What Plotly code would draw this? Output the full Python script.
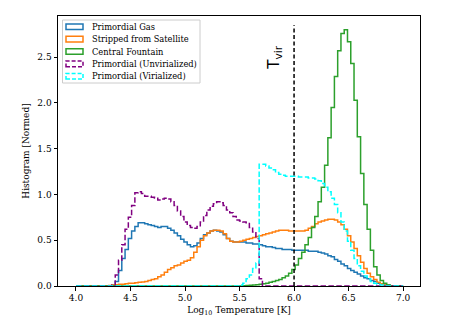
import numpy as np
import plotly.graph_objects as go

# histogram bins: log10 T from 4.0 to 7.0, width 0.03
bin_edges = np.round(np.linspace(4.0, 7.0, 101), 3)

primordial_gas = [
    0, 0, 0, 0, 0, 0, 0, 0, 0, 0,
    0, 0.01, 0.05, 0.17, 0.30, 0.40, 0.52, 0.60, 0.65, 0.69,
    0.69, 0.68, 0.67, 0.66, 0.65, 0.64, 0.65, 0.65, 0.63, 0.61,
    0.58, 0.55, 0.51, 0.48, 0.45, 0.43, 0.44, 0.47, 0.52, 0.56,
    0.58, 0.60, 0.61, 0.60, 0.59, 0.56, 0.52, 0.49, 0.48, 0.48,
    0.48, 0.48, 0.47, 0.47, 0.46, 0.46, 0.45, 0.44, 0.43, 0.43,
    0.42, 0.41, 0.41, 0.40, 0.40, 0.40, 0.39, 0.39, 0.39, 0.39,
    0.39, 0.38, 0.38, 0.38, 0.37, 0.36, 0.35, 0.33, 0.32, 0.29,
    0.27, 0.24, 0.22, 0.19, 0.17, 0.15, 0.13, 0.11, 0.09, 0.08,
    0.06, 0.05, 0.03, 0.02, 0.01, 0.01, 0, 0, 0, 0,
]

stripped = [
    0, 0, 0, 0, 0, 0, 0, 0, 0, 0,
    0.005, 0.01, 0.015, 0.02, 0.02, 0.025, 0.03, 0.03, 0.035, 0.04,
    0.045, 0.05, 0.06, 0.07, 0.08, 0.10, 0.12, 0.15, 0.18, 0.20,
    0.22, 0.23, 0.25, 0.27, 0.28, 0.31, 0.37, 0.43, 0.50, 0.55,
    0.58, 0.60, 0.61, 0.61, 0.60, 0.57, 0.52, 0.49, 0.48, 0.48,
    0.49, 0.50, 0.51, 0.52, 0.53, 0.54, 0.55, 0.56, 0.57, 0.58,
    0.59, 0.60, 0.61, 0.61, 0.61, 0.60, 0.60, 0.60, 0.60, 0.60,
    0.61, 0.63, 0.65, 0.68, 0.70, 0.71, 0.72, 0.73, 0.73, 0.72,
    0.70, 0.67, 0.62, 0.55, 0.48, 0.41, 0.33, 0.26, 0.19, 0.14,
    0.10, 0.07, 0.04, 0.025, 0.01, 0.005, 0, 0, 0, 0,
]

fountain = [
    0, 0, 0, 0, 0, 0, 0, 0, 0, 0,
    0, 0, 0, 0, 0, 0, 0, 0, 0, 0,
    0, 0, 0, 0, 0, 0, 0, 0, 0, 0,
    0, 0, 0, 0, 0, 0, 0, 0, 0, 0,
    0, 0, 0, 0, 0, 0, 0, 0, 0, 0,
    0, 0.002, 0.005, 0.007, 0.01, 0.015, 0.02, 0.025, 0.03, 0.04,
    0.05, 0.06, 0.07, 0.09, 0.11, 0.14, 0.18, 0.23, 0.30, 0.37,
    0.45, 0.53, 0.64, 0.76, 0.92, 1.08, 1.32, 1.62, 1.95, 2.29,
    2.57, 2.76, 2.80, 2.67, 2.43, 2.03, 1.63, 1.23, 0.89, 0.62,
    0.39, 0.21, 0.12, 0.06, 0.03, 0.01, 0, 0, 0, 0,
]

unvirialized = [
    0, 0, 0, 0, 0, 0, 0, 0, 0, 0,
    0, 0.01, 0.12, 0.28, 0.45, 0.62, 0.75, 0.88, 1.02, 1.03,
    1.01, 0.98, 0.98, 0.97, 0.96, 0.94, 0.95, 0.96, 0.95, 0.92,
    0.88, 0.82, 0.76, 0.70, 0.66, 0.64, 0.63, 0.65, 0.70, 0.77,
    0.83, 0.87, 0.90, 0.92, 0.91, 0.88, 0.83, 0.80, 0.76, 0.72,
    0.71, 0.70, 0.69, 0.64, 0.59, 0.52, 0.08, 0, 0, 0,
    0, 0, 0, 0, 0, 0, 0, 0, 0, 0,
    0, 0, 0, 0, 0, 0, 0, 0, 0, 0,
    0, 0, 0, 0, 0, 0, 0, 0, 0, 0,
    0, 0, 0, 0, 0, 0, 0, 0, 0, 0,
]

virialized = [
    0, 0, 0, 0, 0, 0, 0, 0, 0, 0,
    0, 0, 0, 0, 0, 0, 0, 0, 0, 0,
    0, 0, 0, 0, 0, 0, 0, 0, 0, 0,
    0, 0, 0, 0, 0, 0, 0, 0, 0, 0,
    0, 0, 0, 0, 0, 0, 0, 0, 0, 0,
    0.01, 0.03, 0.08, 0.12, 0.19, 0.25, 1.33, 1.33, 1.31, 1.29,
    1.27, 1.24, 1.22, 1.21, 1.20, 1.20, 1.20, 1.20, 1.19, 1.19,
    1.19, 1.18, 1.18, 1.17, 1.15, 1.12, 1.08, 1.03, 0.96, 0.89,
    0.80, 0.70, 0.60, 0.49, 0.39, 0.30, 0.22, 0.16, 0.11, 0.08,
    0.05, 0.03, 0.02, 0.01, 0, 0, 0, 0, 0, 0,
]

series_names = ["Primordial Gas", "Stripped from Satellite", "Central Fountain",
                "Primordial (Unvirialized)", "Primordial (Virialized)"]
series_values = [primordial_gas, stripped, fountain, unvirialized, virialized]
series_colors = ["#1f77b4", "#ff7f0e", "#2ca02c", "purple", "cyan"]
series_dash = ["solid", "solid", "solid", "5.5px,2.4px", "5.5px,2.4px"]

t_vir = 6.0

# page puts the plot 8px in from the top-left corner, so shrink by that
W, H = 449, 317
L, R, T, B = 50, 37, 8, 39
pw, ph = W - L - R, H - T - B

fig = go.Figure()
for name, vals, col, dash in zip(series_names, series_values, series_colors, series_dash):
    fig.add_trace(go.Scatter(x=bin_edges, y=list(vals) + [0], mode="lines", line_shape="hv",
                             line=dict(color=col, width=1.5, dash=dash), name=name, showlegend=False,
                             hoverinfo="skip"))

# virial temperature marker
fig.add_shape(type="line", x0=t_vir, x1=t_vir, y0=0, y1=2.85, xref="x", yref="y",
              line=dict(color="black", width=1.5, dash="4px,2.5px"))
fig.add_annotation(x=t_vir - 0.18, y=2.5, xref="x", yref="y", text="T<sub>vir</sub>", textangle=-90,
                   showarrow=False, font=dict(family="DejaVu Sans", size=15, color="black"))


# matplotlib-like legend drawn by hand (patch rectangles); positions in window pixels
def px2paper(x, y):
    return (x - 8 - L) / pw, (H - B - (y - 8)) / ph


bx0, by0 = px2paper(62.5, 20)
bx1, by1 = px2paper(200, 83)
fig.add_shape(type="rect", xref="paper", yref="paper", x0=bx0, y0=by1, x1=bx1, y1=by0,
              line=dict(color="#cccccc", width=1), fillcolor="rgba(255,255,255,0.8)", layer="above")
for i, (name, col, dash) in enumerate(zip(series_names, series_colors, series_dash)):
    cy = 26.7 + i * 12.4
    x0, y0 = px2paper(66, cy - 2.8)
    x1, y1 = px2paper(83, cy + 2.8)
    fig.add_shape(type="rect", xref="paper", yref="paper", x0=x0, x1=x1, y0=y1, y1=y0,
                  line=dict(color=col, width=1.5, dash="4px,2px" if dash != "solid" else "solid"),
                  layer="above")
    tx, ty = px2paper(89.5, cy)
    fig.add_annotation(x=tx, y=ty, xref="paper", yref="paper", text=name, showarrow=False,
                       xanchor="left", yanchor="middle", font=dict(family="DejaVu Serif", size=8.3, color="black"))

axis_style = dict(showline=True, mirror=True, linecolor="black", linewidth=1, ticks="outside",
                  ticklen=3.5, tickwidth=0.8, tickcolor="black", showgrid=False, zeroline=False,
                  automargin=False, tickfont=dict(family="DejaVu Serif", size=9, color="black"))

fig.update_xaxes(range=[3.835, 7.155], tick0=4.0, dtick=0.5, tickformat=".1f",
                 title=dict(text="Log<sub>10</sub> Temperature [K]", standoff=4,
                            font=dict(family="DejaVu Serif", size=9, color="black")), **axis_style)
fig.update_yaxes(range=[0, 2.95], tick0=0, dtick=0.5, tickformat=".1f",
                 title=dict(text="Histogram [Normed]", standoff=6,
                            font=dict(family="DejaVu Serif", size=9, color="black")), **axis_style)

fig.update_layout(width=W, height=H, margin=dict(l=L, r=R, t=T, b=B), plot_bgcolor="white",
                  paper_bgcolor="white", showlegend=False)

fig.write_html("out.html")
